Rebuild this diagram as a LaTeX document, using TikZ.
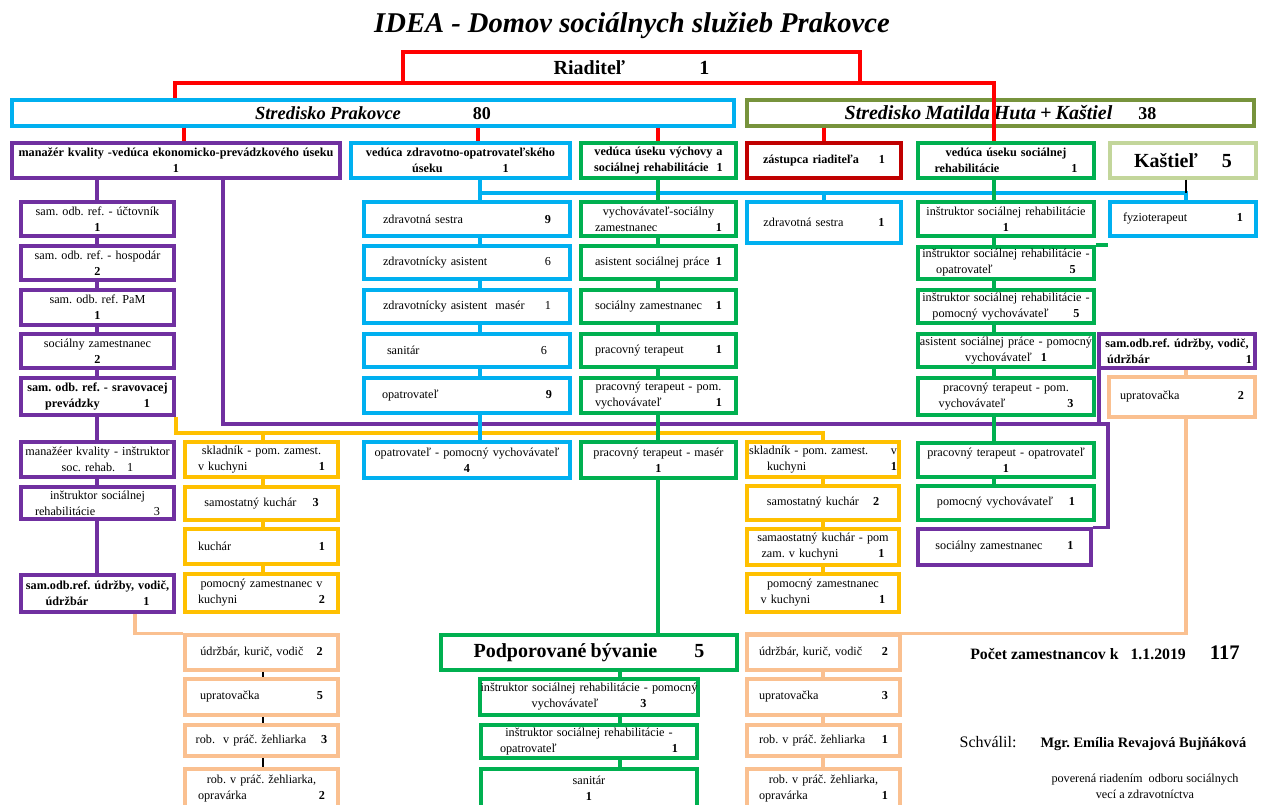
\documentclass[tikz,border=0pt]{standalone}
\usepackage{fontspec}
\setmainfont{Liberation Serif}
\frenchspacing
\definecolor{redColor}{RGB}{255,0,0}
\definecolor{skyColor}{RGB}{0,176,240}
\definecolor{oliveColor}{RGB}{119,147,60}
\definecolor{violetColor}{RGB}{112,48,160}
\definecolor{leafColor}{RGB}{0,176,80}
\definecolor{darkRedColor}{RGB}{192,0,0}
\definecolor{paleOliveColor}{RGB}{195,214,155}
\definecolor{amberColor}{RGB}{255,192,0}
\definecolor{peachColor}{RGB}{250,192,144}
\newcommand{\smallText}{\fontsize{12.2}{16}\selectfont\frenchspacing}
\newcommand{\bigText}{\fontsize{20}{24}\selectfont\bfseries}
\newcommand{\headText}{\fontsize{18.5}{22}\selectfont\bfseries\itshape}
\newcommand{\titleText}{\fontsize{28.6}{32}\selectfont\bfseries\itshape}
\tikzstyle{jobBoxStyle} = [draw, fill=white, line width=3.5pt, inner xsep=0pt, inner ysep=1pt, align=center, font=\smallText]
\tikzstyle{linkStyle} = [line width=3.5pt]
\tikzstyle{tickStyle} = [line width=2pt, color=black]
\newcommand{\jobBox}[8][5]{
  \pgfmathsetmacro{\boxW}{#6 - #4 - 4}
  \pgfmathsetmacro{\boxH}{#7 - #5 - 4}
  \pgfmathsetmacro{\boxT}{#6 - #4 - 2 * #1}
  \node [jobBoxStyle, draw=#3, minimum width=\boxW pt, minimum height=\boxH pt, text width=\boxT pt] (#2) at ({(#4 + #6) / 2}, {(#5 + #7) / 2}) {#8};
}
\begin{document}
\begin{tikzpicture}[x=1pt, y=-1pt]
          \useasboundingbox (0,0) rectangle (1264,805);
          \node [anchor=base, font=\titleText] (title) at (632,33) {IDEA - Domov sociálnych služieb Prakovce};
          % vedenie
          \jobBox{rd}{redColor}{401}{50}{862}{85}{{\bigText Riaditeľ\hspace{74pt}1}}
          \jobBox[2]{sp}{skyColor}{10}{98}{736}{128}{{\headText Stredisko Prakovce}\hspace{72pt}{\fontsize{18}{22}\selectfont\bfseries 80}}
          \jobBox[2]{sm}{oliveColor}{745}{98}{1256}{128}{{\fontsize{20}{22}\selectfont\bfseries\itshape Stredisko Matilda Huta + Kaštiel}\hspace{26pt}{\fontsize{18}{22}\selectfont\bfseries 38}}
          \jobBox[4]{mk}{violetColor}{10}{141}{342}{180}{\textbf{manažér kvality -vedúca ekonomicko-prevádzkového úseku}\\ \textbf{1}}
          \jobBox[6]{vzo}{skyColor}{349}{141}{572}{180}{\textbf{vedúca zdravotno-opatrovateľského}\\ \textbf{úseku\hspace{60pt}1}}
          \jobBox[6]{vvs}{leafColor}{579}{141}{738}{180}{\textbf{vedúca úseku výchovy a}\\ \textbf{sociálnej rehabilitácie\ \ 1}}
          \jobBox{zr}{darkRedColor}{745}{141}{903}{180}{\textbf{zástupca riaditeľa\hspace{20pt}1}}
          \jobBox{vsr}{leafColor}{916}{141}{1096}{180}{\textbf{vedúca úseku sociálnej}\\ \textbf{rehabilitácie\hspace{72pt}1}}
          \jobBox{kas}{paleOliveColor}{1108}{141}{1258}{180}{{\bigText Kaštieľ\hspace{24pt}5}}
          % ekonomicko-prevadzkovy usek
          \jobBox{uct}{violetColor}{19}{200}{176}{238}{sam. odb. ref. - účtovník\\ \textbf{1}}
          \jobBox{hos}{violetColor}{19}{244}{176}{282}{sam. odb. ref. - hospodár\\ \textbf{2}}
          \jobBox{pam}{violetColor}{19}{288}{176}{327}{sam. odb. ref. PaM\\ \textbf{1}}
          \jobBox{szl}{violetColor}{19}{332}{176}{370}{sociálny zamestnanec\\ \textbf{2}}
          \jobBox[4]{srp}{violetColor}{19}{376}{176}{417}{\textbf{sam. odb. ref. - sravovacej}\\ \textbf{prevádzky\hspace{44pt}1}}
          \jobBox[4]{mki}{violetColor}{19}{440}{176}{479}{manažéer kvality - inštruktor\\ soc. rehab.\hspace{12pt}1}
          \jobBox[16]{isr3}{violetColor}{19}{485}{176}{521}{inštruktor sociálnej\\ rehabilitácie\hfill 3}
          \jobBox[4]{udl}{violetColor}{19}{573}{176}{614}{\textbf{sam.odb.ref. údržby, vodič,}\\ \textbf{údržbár\hspace{55pt}1}}
          \jobBox[15]{skl}{amberColor}{183}{440}{340}{479}{skladník - pom. zamest.\\ v kuchyni\hfill\textbf{1}}
          \jobBox{sk3}{amberColor}{183}{485}{340}{522}{samostatný kuchár\hspace{16pt}\textbf{3}}
          \jobBox[15]{ku1}{amberColor}{183}{527}{340}{566}{kuchár\hfill\textbf{1}}
          \jobBox[15]{pz2}{amberColor}{183}{572}{340}{614}{pomocný zamestnanec v\\ kuchyni\hfill\textbf{2}}
          \jobBox{ukv}{peachColor}{183}{633}{340}{672}{údržbár, kurič, vodič\hspace{13pt}\textbf{2}}
          \jobBox[17]{up5}{peachColor}{183}{677}{340}{717}{upratovačka\hfill\textbf{5}}
          \jobBox{rz3}{peachColor}{183}{723}{340}{758}{rob.\ \ v práč. žehliarka\hspace{15pt}\textbf{3}}
          \jobBox[15]{rzo2}{peachColor}{183}{767}{340}{810}{rob. v práč. žehliarka,\\ opravárka\hfill\textbf{2}}
          % zdravotno-opatrovatelsky usek
          \jobBox[21]{zs9}{skyColor}{362}{200}{572}{238}{zdravotná sestra\hfill\textbf{9}}
          \jobBox[21]{za6}{skyColor}{362}{244}{572}{281}{zdravotnícky asistent\hfill 6}
          \jobBox[21]{zm1}{skyColor}{362}{288}{572}{325}{zdravotnícky asistent\ \ masér\hfill 1}
          \jobBox[25]{san6}{skyColor}{362}{332}{572}{369}{sanitár\hfill 6}
          \jobBox[20]{op9}{skyColor}{362}{376}{572}{415}{opatrovateľ\hfill\textbf{9}}
          \jobBox{opv4}{skyColor}{362}{440}{572}{480}{opatrovateľ - pomocný vychovávateľ\\ \textbf{4}}
          % usek vychovy
          \jobBox[16]{vsz1}{leafColor}{579}{200}{738}{238}{vychovávateľ-sociálny\\ zamestnanec\hfill\textbf{1}}
          \jobBox[16]{asp1}{leafColor}{579}{244}{738}{281}{asistent sociálnej práce\hfill\textbf{1}}
          \jobBox[16]{sz1}{leafColor}{579}{288}{738}{325}{sociálny zamestnanec\hfill\textbf{1}}
          \jobBox[16]{pt1}{leafColor}{579}{332}{738}{369}{pracovný terapeut\hfill\textbf{1}}
          \jobBox[16]{ptv1}{leafColor}{579}{376}{738}{415}{pracovný terapeut - pom.\\ vychovávateľ\hfill\textbf{1}}
          \jobBox{ptm1}{leafColor}{579}{440}{738}{480}{pracovný terapeut - masér\\ \textbf{1}}
          \jobBox{pb}{leafColor}{439}{633}{739}{672}{{\bigText Podporované bývanie\hspace{37pt}5}}
          \jobBox[1]{isp3}{leafColor}{479}{677}{699}{717}{inštruktor sociálnej rehabilitácie - pomocný\\ vychovávateľ\hspace{42pt}\textbf{3}}
          \jobBox[21]{iso1}{leafColor}{479}{723}{699}{760}{inštruktor sociálnej rehabilitácie -\\ opatrovateľ\hfill\textbf{1}}
          \jobBox{san1}{leafColor}{479}{767}{699}{810}{sanitár\\ \textbf{1}}
          % stredisko Matilda Huta
          \jobBox{zs1}{skyColor}{745}{200}{903}{245}{zdravotná sestra\hspace{35pt}\textbf{1}}
          \jobBox[4]{skr}{amberColor}{745}{440}{901}{479}{skladník - pom. zamest.\hfill v\\ \hspace*{18pt}kuchyni\hfill\textbf{1}\hspace*{17pt}}
          \jobBox{skr2}{amberColor}{745}{484}{901}{522}{samostatný kuchár\hspace{14pt}\textbf{2}}
          \jobBox{skp1}{amberColor}{745}{527}{901}{567}{samaostatný kuchár - pom\\ zam. v kuchyni\hspace{40pt}\textbf{1}}
          \jobBox{pzr1}{amberColor}{745}{572}{901}{614}{pomocný zamestnanec\\ v kuchyni\hspace{69pt}\textbf{1}}
          \jobBox[14]{ukr}{peachColor}{745}{633}{902}{672}{údržbár, kurič, vodič\hfill\textbf{2}}
          \jobBox[14]{upr3}{peachColor}{745}{677}{902}{717}{upratovačka\hfill\textbf{3}}
          \jobBox[14]{rzr1}{peachColor}{745}{723}{902}{758}{rob. v práč. žehliarka\hfill\textbf{1}}
          \jobBox[14]{rzo1}{peachColor}{745}{767}{902}{810}{rob. v práč. žehliarka,\\ opravárka\hfill\textbf{1}}
          \jobBox{isr1}{leafColor}{916}{200}{1096}{238}{inštruktor sociálnej rehabilitácie\\ \textbf{1}}
          \jobBox{iso5}{leafColor}{916}{245}{1096}{281}{inštruktor sociálnej rehabilitácie -\\ opatrovateľ\hspace{77pt}\textbf{5}}
          \jobBox{isv5}{leafColor}{916}{288}{1096}{325}{inštruktor sociálnej rehabilitácie -\\ pomocný vychovávateľ\hspace{25pt}\textbf{5}}
          \jobBox[3]{asv1}{leafColor}{916}{332}{1096}{369}{asistent sociálnej práce - pomocný\\ vychovávateľ\hspace{9pt}\textbf{1}}
          \jobBox{ptv3}{leafColor}{916}{376}{1096}{417}{pracovný terapeut - pom.\\ vychovávateľ\hspace{62pt}\textbf{3}}
          \jobBox{pto1}{leafColor}{916}{441}{1096}{479}{pracovný terapeut - opatrovateľ\\ \textbf{1}}
          \jobBox{pv1}{leafColor}{916}{484}{1096}{522}{pomocný vychovávateľ\hspace{16pt}\textbf{1}}
          \jobBox{szr1}{violetColor}{916}{527}{1093}{567}{sociálny zamestnanec\hspace{25pt}\textbf{1}}
          % kastiel
          \jobBox[15]{fyz}{skyColor}{1108}{200}{1258}{238}{fyzioterapeut\hfill\textbf{1}}
          \jobBox{udr}{violetColor}{1097}{332}{1257}{370}{\textbf{sam.odb.ref. údržby, vodič,}\\ \textbf{\hspace*{5pt}údržbár\hfill 1\hspace*{6pt}}}
          \jobBox[13]{upr2}{peachColor}{1107}{375}{1257}{419}{upratovačka\hfill\textbf{2}}
          % texty
          \node [anchor=base] (pocet) at (1105,659) {{\fontsize{15.8}{18}\selectfont\bfseries Počet zamestnancov k\hspace{12pt}1.1.2019}\hspace{24pt}{\fontsize{20.7}{24}\selectfont\bfseries 117}};
          \node [anchor=base] (schvalil) at (1103,747) {{\fontsize{16}{18}\selectfont Schválil:}\hspace{24pt}{\fontsize{14.4}{17}\selectfont\bfseries Mgr. Emília Revajová Bujňáková}};
          \node [align=center, font=\smallText] (poverena) at (1145,786) {poverená riadením\ \ odboru sociálnych\\ vecí a zdravotníctva};

          % spojnice
          \coordinate (redLeft) at (175,83);
          \coordinate (redRight) at (994,83);
          \coordinate (railMk) at (184,0);
          \coordinate (railVzo) at (478,0);
          \coordinate (railVvs) at (658,0);
          \coordinate (railZr) at (824,0);
          \coordinate (skyRail) at (480,0);
          \coordinate (skyJoint) at (480,193);
          \coordinate (fyzRail) at (1186,0);
          \coordinate (violetRail) at (97,0);
          \coordinate (violetStart) at (223,424);
          \coordinate (violetTurn) at (1108,424);
          \coordinate (udrRail) at (1099,0);
          \coordinate (amberRail) at (263,0);
          \coordinate (amberRightRail) at (823,0);
          \coordinate (amberJoint) at (823,433);
          \coordinate (peachRail) at (135,0);
          \coordinate (leafRail) at (658,0);
          \coordinate (homeRail) at (620,0);
          \coordinate (leafRightRail) at (994,0);

          \draw [linkStyle, violetColor] (mk.south -| violetStart) -- (violetStart) -- (violetTurn) -- (violetTurn |- szr1.north) -- (szr1.north east);
          \draw [linkStyle, violetColor] (udr.south -| udrRail) -- (violetTurn -| udrRail);
          \draw [linkStyle, amberColor] (srp.south east) |- (amberJoint) -- (skr.north -| amberJoint);
          \draw [linkStyle, amberColor] (amberJoint -| amberRail) -- (skl.north -| amberRail);
          \draw [linkStyle, peachColor] (udl.south -| peachRail) |- (ukv.north west);
          \draw [linkStyle, peachColor] (ukr.north west) -| (upr2.south -| fyzRail);
          \draw [linkStyle, peachColor] (udr.south -| fyzRail) -- (upr2.north -| fyzRail);
          \draw [linkStyle, redColor] (sp.north -| redLeft) -- (redLeft) -- (redRight) -- (vsr.north -| redRight);
          \foreach \upper/\lower/\rail in {sp/mk/railMk, sp/vzo/railVzo, sp/vvs/railVvs, sm/zr/railZr}
            \draw [linkStyle, redColor] (\upper.south -| \rail) -- (\lower.north -| \rail);
          \draw [linkStyle, skyColor] (skyJoint) -- (skyJoint -| fyzRail) -- (fyz.north -| fyzRail);
          \draw [linkStyle, skyColor] (skyJoint -| railZr) -- (zs1.north -| railZr);
          \draw [tickStyle] (kas.south -| fyzRail) -- (skyJoint -| fyzRail);
          \foreach \upper/\lower in {vzo/zs9, zs9/za6, za6/zm1, zm1/san6, san6/op9, op9/opv4}
            \draw [linkStyle, skyColor] (\upper.south -| skyRail) -- (\lower.north -| skyRail);
          \foreach \upper/\lower in {mk/uct, uct/hos, hos/pam, pam/szl, szl/srp, srp/mki, mki/isr3, isr3/udl}
            \draw [linkStyle, violetColor] (\upper.south -| violetRail) -- (\lower.north -| violetRail);
          \foreach \upper/\lower in {skl/sk3, sk3/ku1, ku1/pz2}
            \draw [linkStyle, amberColor] (\upper.south -| amberRail) -- (\lower.north -| amberRail);
          \foreach \upper/\lower in {skr/skr2, skr2/skp1, skp1/pzr1}
            \draw [linkStyle, amberColor] (\upper.south -| amberRightRail) -- (\lower.north -| amberRightRail);
          \foreach \upper/\lower in {ukr/upr3, upr3/rzr1, rzr1/rzo1}
            \draw [linkStyle, peachColor] (\upper.south -| amberRightRail) -- (\lower.north -| amberRightRail);
          \foreach \upper/\lower in {ukv/up5, up5/rz3, rz3/rzo2}
            \draw [tickStyle] (\upper.south -| amberRail) -- (\lower.north -| amberRail);
          \foreach \upper/\lower in {vvs/vsz1, vsz1/asp1, asp1/sz1, sz1/pt1, pt1/ptv1, ptv1/ptm1, ptm1/pb}
            \draw [linkStyle, leafColor] (\upper.south -| leafRail) -- (\lower.north -| leafRail);
          \foreach \upper/\lower in {pb/isp3, isp3/iso1, iso1/san1}
            \draw [linkStyle, leafColor] (\upper.south -| homeRail) -- (\lower.north -| homeRail);
          \foreach \upper/\lower in {vsr/isr1, isr1/iso5, iso5/isv5, isv5/asv1, asv1/ptv3, ptv3/pto1, pto1/pv1}
            \draw [linkStyle, leafColor] (\upper.south -| leafRightRail) -- (\lower.north -| leafRightRail);
          \draw [linkStyle, leafColor] (iso5.north east) -- (iso5.north east -| violetTurn);
        \end{tikzpicture}
\end{document}
